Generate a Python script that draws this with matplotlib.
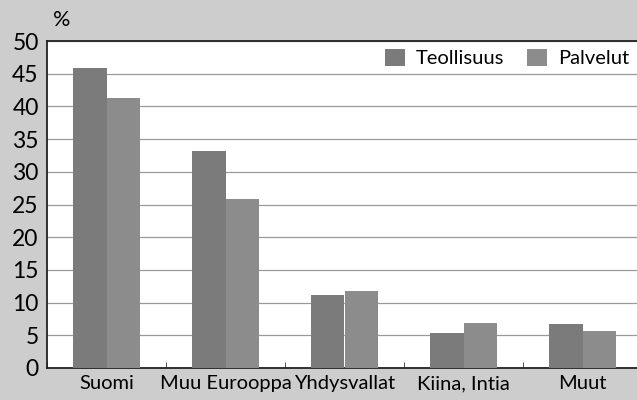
import numpy as np
import matplotlib
matplotlib.use("Agg")
import matplotlib.pyplot as plt

# data
categories = ["Suomi", "Muu Eurooppa", "Yhdysvallat", "Kiina, Intia", "Muut"]
teollisuus = [45.8, 33.2, 11.2, 5.3, 6.7]
palvelut = [41.3, 25.8, 11.8, 6.9, 5.7]
series_names = ["Teollisuus", "Palvelut"]
yticks = [0, 5, 10, 15, 20, 25, 30, 35, 40, 45, 50]

plt.rcParams["font.family"] = ["Lato", "DejaVu Sans"]

fig = plt.figure(figsize=(6.37, 4.0), dpi=100)
fig.patch.set_facecolor("#cdcdcd")

# axes runs a bit past the right edge like the scan
ax = fig.add_axes([47 / 637, 32 / 400, 595 / 637, 327 / 400])
ax.set_facecolor("white")

x = np.arange(len(categories))
w = 0.28
ax.bar(x - w / 2, teollisuus, w, color="#7b7b7b", label=series_names[0], zorder=3)
ax.bar(x + w / 2, palvelut, w, color="#8c8c8c", label=series_names[1], zorder=3)

ax.set_xlim(-0.5, len(categories) - 0.5)
ax.set_ylim(0, 50)
ax.set_yticks(yticks)
ax.set_yticklabels([str(t) for t in yticks], fontsize=16.5)
ax.yaxis.grid(True, color="#9a9a9a", linewidth=0.9, zorder=0)
ax.set_axisbelow(True)

ax.set_xticks(x)
ax.set_xticklabels(categories, fontsize=14.5)
ax.tick_params(axis="x", length=0, pad=5)
ax.tick_params(axis="y", length=0, pad=6)
# small ticks at group borders
ax.set_xticks(np.arange(-0.5, len(categories), 1.0), minor=True)
ax.tick_params(axis="x", which="minor", length=4, direction="in", color="#333333")

ax.spines["right"].set_visible(False)
for s in ["top", "left", "bottom"]:
    ax.spines[s].set_color("#222222")
    ax.spines[s].set_linewidth(1.3)

fig.text(53 / 637, 1 - 20 / 400, "%", fontsize=15.5, ha="left", va="center")

leg = ax.legend(loc="upper right", bbox_to_anchor=(588 / 595, 0.995), ncol=2,
                frameon=True, fontsize=14.5, handlelength=1.0, handleheight=0.95,
                columnspacing=1.1, handletextpad=0.55, borderaxespad=0.1,
                borderpad=0.2)
leg.get_frame().set_facecolor("white")
leg.get_frame().set_edgecolor("white")
leg.get_frame().set_alpha(1)
leg.set_zorder(1)

fig.savefig("out.png", dpi=100, facecolor=fig.get_facecolor())
